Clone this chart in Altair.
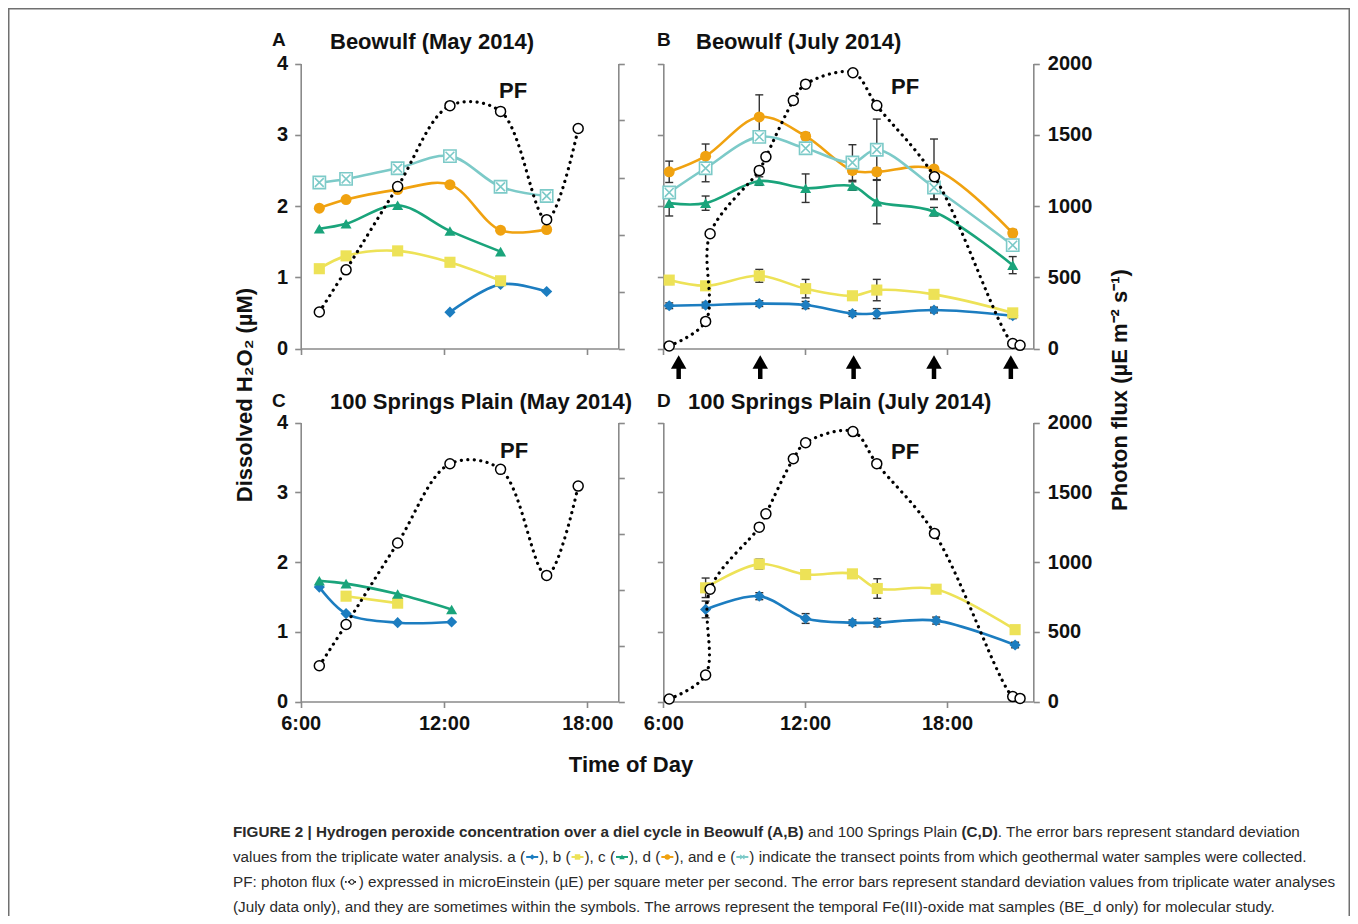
import altair as alt
import pandas as pd

# ------------------------------------------------------------------ data
SERIES = ["a", "b", "c", "d", "e"]
SERIES_COLORS = ["#1c7dc0", "#ede257", "#1aa47b", "#f0a210", "#7ccac8"]
FILLED_SHAPES = ["diamond", "square", "triangle-up", "circle"]
FILLED_SIZES = [125, 121, 150, 125]

# Panel A - Beowulf (May 2014), H2O2 in uM
A_TIME = [6.78, 7.90, 10.06, 12.25, 14.37, 16.30]
A_VALUES = {
    "a": [None, None, None, 0.51, 0.90, 0.80],
    "b": [1.12, 1.30, 1.37, 1.21, 0.95, None],
    "c": [1.68, 1.75, 2.01, 1.65, 1.36, None],
    "d": [1.97, 2.09, 2.23, 2.30, 1.66, 1.67],
    "e": [2.33, 2.38, 2.53, 2.70, 2.27, 2.14],
}
# Panel B - Beowulf (July 2014)
B_TIME = [6.25, 7.79, 10.06, 12.02, 14.00, 15.03, 17.45, 20.78]
B_VALUES = {
    "a": [0.60, 0.61, 0.63, 0.61, 0.49, 0.49, 0.54, 0.46],
    "b": [0.96, 0.88, 1.02, 0.84, 0.74, 0.82, 0.76, 0.50],
    "c": [2.04, 2.04, 2.35, 2.25, 2.28, 2.06, 1.92, 1.17],
    "d": [2.48, 2.70, 3.25, 2.98, 2.50, 2.48, 2.52, 1.62],
    "e": [2.19, 2.53, 2.97, 2.81, 2.61, 2.79, 2.26, 1.45],
}
B_SD = {
    "a": [0.04, 0.04, 0.04, 0.05, 0.04, 0.07, 0.04, 0.04],
    "b": [0.06, 0.05, 0.09, 0.13, 0.04, 0.15, 0.05, 0.04],
    "c": [0.18, 0.10, 0.06, 0.20, 0.06, 0.31, 0.06, 0.12],
    "d": [0.15, 0.17, 0.31, 0.05, 0.05, 0.05, 0.42, 0.05],
    "e": [0.05, 0.19, 0.06, 0.05, 0.25, 0.43, 0.17, 0.06],
}
# Panel C - 100 Springs Plain (May 2014)
C_TIME = [6.78, 7.90, 10.06, 12.32]
C_VALUES = {
    "a": [1.64, 1.26, 1.13, 1.14],
    "b": [None, 1.51, 1.41, None],
    "c": [1.73, 1.69, 1.54, 1.32],
}
# Panel D - 100 Springs Plain (July 2014)
D_TIME = [7.79, 10.06, 12.02, 14.00, 15.05, 17.54, 20.88]
D_VALUES = {
    "a": [1.32, 1.51, 1.19, 1.13, 1.13, 1.16, 0.81],
    "b": [1.63, 1.97, 1.82, 1.83, 1.62, 1.61, 1.03],
}
D_SD = {
    "a": [0.12, 0.05, 0.07, 0.04, 0.06, 0.05, 0.04],
    "b": [0.14, 0.07, 0.04, 0.05, 0.14, 0.04, 0.04],
}
# Photon flux (uE m-2 s-1)
PF_MAY_TIME = [6.78, 7.90, 10.06, 12.25, 14.37, 16.30, 17.62]
PF_MAY = [320, 690, 1420, 2130, 2080, 1130, 1930]
PF_JULY_TIME = [6.25, 7.79, 7.98, 10.06, 10.34, 11.50, 12.02, 14.02, 15.03, 17.47, 20.78, 21.09]
PF_JULY = [18, 190, 805, 1250, 1345, 1740, 1855, 1935, 1705, 1205, 35, 22]
# Fe(III)-oxide mat sampling times (arrows, panel B)
ARROW_TIME = [6.65, 10.10, 14.05, 17.45, 20.70]

H2O2_TICKS = [0, 1, 2, 3, 4]
PF_TICKS_MAY = [0, 500, 1000, 1500, 2000, 2500]
PF_TICKS_JULY = [0, 500, 1000, 1500, 2000]
TIME_TICKS = [6, 12, 18]

# ------------------------------------------------------------------ layout / style
FONT = "Liberation Sans"
CAP_FONT = "Liberation Sans"
OFF = 8
W, H = 1342, 908
AX = "#8a8a8a"
INK = "#111111"
ERR = "#333333"
XBOX = "M-1,-1L1,-1L1,1L-1,1Z M-0.72,-0.72L0.72,0.72 M0.72,-0.72L-0.72,0.72"
XMARK = "M-1,-1L1,1 M1,-1L-1,1"
DUMMY = alt.Data(values=[{}])

PANELS = {
    "A": dict(x0=300.7, x1=618.3, yt=63.5, yb=348.5, tmax=19.3, left=True, right=False, bottom=False),
    "B": dict(x0=663.3, x1=1033.3, yt=63.5, yb=348.5, tmax=21.65, left=False, right=True, bottom=False),
    "C": dict(x0=300.7, x1=618.3, yt=422.5, yb=701.5, tmax=19.3, left=True, right=False, bottom=True),
    "D": dict(x0=663.3, x1=1033.3, yt=422.5, yb=701.5, tmax=21.65, left=False, right=True, bottom=True),
}


def long_df(times, values):
    rows = []
    for s, vals in values.items():
        for t, v in zip(times, vals):
            if v is not None:
                rows.append({"t": t, "v": v, "s": s})
    return pd.DataFrame(rows)


def err_frames(times, values, sd):
    bars, caps = [], []
    for s, errs in sd.items():
        for t, v, e in zip(times, values[s], errs):
            bars.append({"t": t, "lo": v - e, "hi": v + e})
            caps.append({"t": t, "c": v - e})
            caps.append({"t": t, "c": v + e})
    return pd.DataFrame(bars), pd.DataFrame(caps)


def axis_style():
    return dict(title=None, grid=False, domainColor=AX, domainWidth=1.6, tickColor=AX,
                tickWidth=1.6, tickSize=6, labelFont=FONT, labelFontSize=20,
                labelFontWeight="bold", labelColor=INK, labelFlush=False, labelOverlap=False)


def panel(p, times, values, sd, pf_time, pf_vals, pf_top, pf_ticks, arrows=None):
    xs = alt.Scale(domain=[6, p["tmax"]], range=[p["x0"] - OFF, p["x1"] - OFF], nice=False, zero=False)
    ys = alt.Scale(domain=[0, 4], range=[p["yb"] - OFF, p["yt"] - OFF], nice=False, zero=False)
    ps = alt.Scale(domain=[0, pf_top], range=[p["yb"] - OFF, p["yt"] - OFF], nice=False, zero=False)
    bottom = alt.Axis(orient="bottom", offset=(p["yb"] - OFF) - H, values=TIME_TICKS,
                      labels=p["bottom"], labelExpr="datum.value + ':00'", labelPadding=6, **axis_style())
    left = alt.Axis(orient="left", offset=-(p["x0"] - OFF), values=H2O2_TICKS, format="d",
                    labels=p["left"], labelPadding=7, **axis_style())
    right = alt.Axis(orient="right", offset=(p["x1"] - OFF) - W, values=pf_ticks, format="d",
                     labels=p["right"], labelPadding=8, **axis_style())

    X = lambda f="t": alt.X(f + ":Q", scale=xs, axis=None)
    df = long_df(times, values)
    color = alt.Color("s:N", scale=alt.Scale(domain=SERIES, range=SERIES_COLORS), legend=None)
    layers = [
        alt.Chart(df).mark_line(interpolate="catmull-rom", strokeWidth=2.6).encode(
            x=alt.X("t:Q", scale=xs, axis=bottom), y=alt.Y("v:Q", scale=ys, axis=left), color=color)
    ]
    if sd:
        bars, caps = err_frames(times, values, sd)
        layers.append(alt.Chart(bars).mark_rule(color=ERR, strokeWidth=1.4).encode(
            x=X(), y=alt.Y("lo:Q", scale=ys, axis=None), y2="hi:Q"))
        layers.append(alt.Chart(caps).mark_point(shape="stroke", size=64, strokeWidth=1.4, color=ERR, opacity=1).encode(
            x=X(), y=alt.Y("c:Q", scale=ys, axis=None)))
    filled = df[df.s != "e"]
    layers.append(alt.Chart(filled).mark_point(filled=True, opacity=1).encode(
        x=X(), y=alt.Y("v:Q", scale=ys, axis=None), color=color,
        shape=alt.Shape("s:N", scale=alt.Scale(domain=SERIES[:4], range=FILLED_SHAPES), legend=None),
        size=alt.Size("s:O", scale=alt.Scale(domain=SERIES[:4], range=FILLED_SIZES), legend=None)))
    if "e" in values:
        layers.append(alt.Chart(df[df.s == "e"]).mark_point(
            shape=XBOX, size=150, filled=True, fill="white", stroke=SERIES_COLORS[4], strokeWidth=1.6, opacity=1).encode(
            x=X(), y=alt.Y("v:Q", scale=ys, axis=None)))
    pdf = pd.DataFrame({"t": pf_time, "pf": pf_vals})
    layers.append(alt.Chart(pdf).mark_line(interpolate="catmull-rom", color="black", strokeWidth=3.2,
                                           strokeDash=[0.1, 6.4], strokeCap="round").encode(
        x=X(), y=alt.Y("pf:Q", scale=ps, axis=right)))
    layers.append(alt.Chart(pdf).mark_point(shape="circle", size=100, filled=True, fill="white",
                                            stroke="black", strokeWidth=1.5, opacity=1).encode(
        x=X(), y=alt.Y("pf:Q", scale=ps, axis=None)))
    if arrows:
        adf = pd.DataFrame({"t": arrows})
        layers.append(alt.Chart(adf).mark_rule(color="black", strokeWidth=4.5).encode(
            x=X(), y=alt.value(367 - OFF), y2=alt.value(379 - OFF)))
        layers.append(alt.Chart(adf).mark_point(shape="triangle-up", filled=True, color="black",
                                                size=240, opacity=1).encode(
            x=X(), y=alt.value(362 - OFF)))
    return layers


def txt(s, x, y, size=22, weight="bold", align="left", baseline="alphabetic", angle=0,
        color=INK, font=FONT):
    kw = dict(text=s, font=font, fontSize=size, fontWeight=weight, align=align,
              baseline=baseline, color=color)
    if angle:
        kw["angle"] = angle
    return alt.Chart(DUMMY).mark_text(**kw).encode(x=alt.value(x - OFF), y=alt.value(y - OFF))


# ------------------------------------------------------------------ caption metrics (Arial-compatible)
def _table(groups):
    d = {}
    for chars, w in groups:
        for ch in chars:
            d[ch] = w
    return d


REG = _table([(" !,./:;[]ftI", 278), ("ijl", 222), ("r()-", 333), ("|", 260),
              ("ckvsxyzJ", 500), ("mM", 833), ("w", 722), ("W", 944),
              ("_0123456789abdeghnopqu\u00b5L?", 556), ("ABEKPSVXY", 667),
              ("CDHNRU", 722), ("FTZ", 611), ("GOQ", 778)])
BOLD = _table([(" ,.", 278), ("!:()-", 333), ("|", 280), ("ijlI", 278), ("ft", 333),
               ("r", 389), ("z", 500), ("ckvsxyaeJ_0123456789", 556),
               ("bdghnopqu", 611), ("L", 611), ("w", 778), ("m", 889), ("M", 833),
               ("W", 944), ("ABCDHKNRU", 722), ("EPSVXY", 667), ("FTZ", 611), ("GOQ", 778)])


def em(s, bold):
    t = BOLD if bold else REG
    return sum(t.get(ch, 556) for ch in s) / 1000.0


CAPTION = [
    [("FIGURE 2 | Hydrogen peroxide concentration over a diel cycle in Beowulf (A,B)", True),
     (" and 100 Springs Plain ", False), ("(C,D)", True),
     (". The error bars represent standard deviation", False)],
    [("values from the triplicate water analysis. a (", False), ("#a", None), ("), b (", False),
     ("#b", None), ("), c (", False), ("#c", None), ("), d (", False), ("#d", None),
     ("), and e (", False), ("#e", None),
     (") indicate the transect points from which geothermal water samples were collected.", False)],
    [("PF: photon flux (", False), ("#pf", None),
     (") expressed in microEinstein (\u00b5E) per square meter per second. The error bars represent standard deviation values from triplicate water analyses", False)],
    [("(July data only), and they are sometimes within the symbols. The arrows represent the temporal Fe(III)-oxide mat samples (BE_d only) for molecular study.", False)],
]
CAP_X0, CAP_X1 = 233, 1300
CAP_BASE = [837, 862, 887, 912]
CAP_SIZE = round((CAP_X1 - CAP_X0) / sum(em(s, b) for s, b in CAPTION[0]), 2)
GW = 14
CAP_INK = "#2a2a2a"


def cap_glyph(kind, x, yc):
    xl, xr, xm = x + 1 - OFF, x + GW - 1 - OFF, x + GW / 2 - OFF
    y = alt.value(yc - OFF)
    if kind == "pf":
        line = alt.Chart(DUMMY).mark_rule(color="black", strokeWidth=1.8, strokeDash=[0.1, 3],
                                          strokeCap="round").encode(x=alt.value(xl), x2=alt.value(xr), y=y)
        mark = alt.Chart(DUMMY).mark_point(shape="circle", size=22, filled=True, fill="white",
                                           stroke="black", strokeWidth=1, opacity=1).encode(x=alt.value(xm), y=y)
        return [line, mark]
    i = SERIES.index(kind)
    col = SERIES_COLORS[i]
    line = alt.Chart(DUMMY).mark_rule(color=col, strokeWidth=2).encode(x=alt.value(xl), x2=alt.value(xr), y=y)
    if kind == "e":
        mark = alt.Chart(DUMMY).mark_point(shape=XMARK, size=18, stroke=col, strokeWidth=1.2,
                                           opacity=1).encode(x=alt.value(xm), y=y)
    else:
        mark = alt.Chart(DUMMY).mark_point(shape=FILLED_SHAPES[i], size=30, filled=True, color=col,
                                           opacity=1).encode(x=alt.value(xm), y=y)
    return [line, mark]


def caption_layers():
    out = []
    for line, base in zip(CAPTION, CAP_BASE):
        cx = CAP_X0
        for s, bold in line:
            if bold is None:
                out += cap_glyph(s[1:], cx, base - 0.33 * CAP_SIZE)
                cx += GW
                continue
            stripped = s.lstrip(" ")
            lead = em(s[: len(s) - len(stripped)], bold) * CAP_SIZE
            out.append(txt(stripped.rstrip(" "), cx + lead, base, size=CAP_SIZE,
                           weight="bold" if bold else "normal", color=CAP_INK, font=CAP_FONT))
            cx += em(s, bold) * CAP_SIZE
    return out


# ------------------------------------------------------------------ assemble
layers = []
layers.append(alt.Chart(DUMMY).mark_rect(fillOpacity=0, stroke="#707070", strokeWidth=1.5).encode(
    x=alt.value(0.75), x2=alt.value(W - 0.75), y=alt.value(0.75), y2=alt.value(H + 10)))
layers += panel(PANELS["A"], A_TIME, A_VALUES, None, PF_MAY_TIME, PF_MAY, 2500, PF_TICKS_MAY)
layers += panel(PANELS["B"], B_TIME, B_VALUES, B_SD, PF_JULY_TIME, PF_JULY, 2000, PF_TICKS_JULY, ARROW_TIME)
layers += panel(PANELS["C"], C_TIME, C_VALUES, None, PF_MAY_TIME, PF_MAY, 2500, PF_TICKS_MAY)
layers += panel(PANELS["D"], D_TIME, D_VALUES, D_SD, PF_JULY_TIME, PF_JULY, 2000, PF_TICKS_JULY)

layers += [
    txt("A", 272, 46, size=19), txt("Beowulf (May 2014)", 330, 49),
    txt("B", 657, 46, size=19), txt("Beowulf (July 2014)", 696, 49),
    txt("C", 272, 407, size=19), txt("100 Springs Plain (May 2014)", 330, 409),
    txt("D", 657, 407, size=19), txt("100 Springs Plain (July 2014)", 688, 409),
    txt("PF", 499, 98), txt("PF", 891, 94), txt("PF", 500, 458), txt("PF", 891, 459),
    txt("Time of Day", 631, 772, align="center"),
    txt("Dissolved H\u2082O\u2082 (\u00b5M)", 245, 395, align="center", baseline="middle", angle=270),
    txt("Photon flux (\u00b5E m\u207b\u00b2 s\u207b\u00b9)", 1120, 390, align="center", baseline="middle", angle=270),
]
layers += caption_layers()

chart = alt.layer(*layers).resolve_scale(
    x="independent", y="independent", color="independent", shape="independent", size="independent"
).properties(
    width=W, height=H, padding=0, autosize=alt.AutoSizeParams(type="none")
).configure_view(stroke="transparent")

chart.save("out.html", embed_options={"renderer": "svg", "actions": False})
